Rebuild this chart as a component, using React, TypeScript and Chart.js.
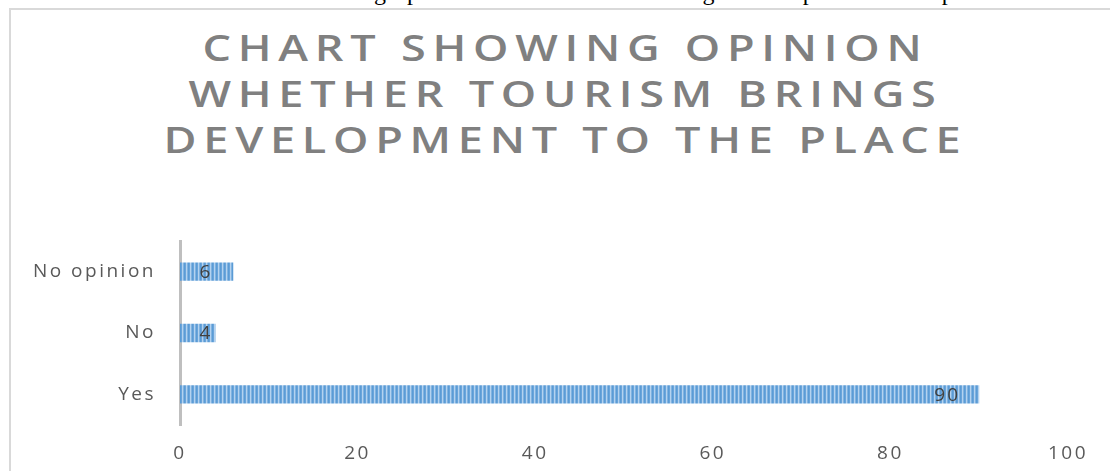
import React, { useEffect, useRef } from "react";
import { Chart, registerables } from "chart.js";

Chart.register(...registerables);

const captionText = "Chart No.2 Chartshowing opinion whether tourism brings development to the place";
const titleLines = ["CHART SHOWING OPINION", "WHETHER TOURISM BRINGS", "DEVELOPMENT TO THE PLACE"];
const categories = ["No opinion", "No", "Yes"];
const values = [6, 4, 90];
const xTicks = [0, 20, 40, 60, 80, 100];

const FONT = "'Open Sans', 'Noto Sans', sans-serif";

function makePattern(): CanvasPattern | string {
  const c = document.createElement("canvas");
  c.width = 4;
  c.height = 4;
  const g = c.getContext("2d");
  if (!g) return "#5b9bd5";
  const cols = ["#5b9bd5", "#6aa5db", "#b4d2ef", "#80b3e1"];
  cols.forEach((col, i) => {
    g.fillStyle = col;
    g.fillRect(i, 0, 1, 4);
  });
  return g.createPattern(c, "repeat") || "#5b9bd5";
}

const spacingPlugin = {
  id: "spacing",
  beforeDraw(chart: any) {
    (chart.ctx as any).letterSpacing = "2.5px";
  },
};

const labelPlugin = {
  id: "barLabels",
  afterDatasetsDraw(chart: any) {
    const ctx = chart.ctx;
    const meta = chart.getDatasetMeta(0);
    ctx.save();
    (ctx as any).letterSpacing = "2px";
    ctx.font = `19px ${FONT}`;
    ctx.fillStyle = "#404040";
    ctx.textAlign = "center";
    ctx.textBaseline = "middle";
    meta.data.forEach((bar: any, i: number) => {
      const start = bar.base;
      const end = bar.x;
      const cx = Math.max(end - 33, start + 25);
      ctx.fillText(String(values[i]), cx + 1, bar.y + 1);
    });
    ctx.restore();
  },
};

export default function App() {
  const ref = useRef<HTMLCanvasElement>(null);

  useEffect(() => {
    if (!ref.current) return;
    const chart = new Chart(ref.current, {
      type: "bar",
      data: {
        labels: categories,
        datasets: [
          {
            data: values,
            backgroundColor: makePattern() as any,
            borderWidth: 0,
            categoryPercentage: 1,
            barPercentage: 0.3,
          },
        ],
      },
      options: {
        indexAxis: "y",
        responsive: false,
        animation: false,
        layout: { padding: { top: 241, right: 42, left: 0, bottom: 0 } },
        plugins: {
          legend: { display: false },
          tooltip: { enabled: false },
          title: { display: false },
        },
        scales: {
          x: {
            min: 0,
            max: 100,
            afterBuildTicks: (s: any) => {
              s.ticks = xTicks.map((v) => ({ value: v }));
            },
            grid: { display: false, drawTicks: false },
            border: { display: false },
            ticks: {
              color: "#595959",
              font: { family: FONT, size: 19 },
              padding: 17,
              maxRotation: 0,
            },
            afterFit: (s: any) => {
              s.height = 46;
            },
          },
          y: {
            grid: { display: false, drawTicks: false },
            border: { display: true, color: "#bfbfbf", width: 3 },
            ticks: {
              color: "#595959",
              font: { family: FONT, size: 19 },
              padding: 24,
            },
            afterFit: (s: any) => {
              s.width = 180;
            },
          },
        },
      },
      plugins: [spacingPlugin, labelPlugin],
    });
    return () => chart.destroy();
  }, []);

  return (
    <div
      style={{
        position: "absolute",
        left: 0,
        top: 0,
        width: 1110,
        height: 471,
        overflow: "hidden",
        background: "#ffffff",
      }}
    >
      <div
        style={{
          position: "absolute",
          top: -20,
          left: 0,
          width: 1114,
          textAlign: "center",
          fontFamily: "'Liberation Serif', 'Times New Roman', serif",
          fontSize: 24,
          lineHeight: "24px",
          letterSpacing: "1px",
          color: "#000",
          whiteSpace: "nowrap",
        }}
      >
        {captionText}
      </div>
      <div
        style={{
          position: "absolute",
          left: 9,
          top: 8,
          width: 1200,
          height: 600,
          borderTop: "2px solid #d9d9d9",
          borderLeft: "2px solid #d9d9d9",
          boxSizing: "border-box",
        }}
      />
      <div
        style={{
          position: "absolute",
          top: 25,
          left: 0,
          width: 1131,
          textAlign: "center",
          fontFamily: FONT,
          fontWeight: 600,
          fontSize: 36,
          lineHeight: "46px",
          letterSpacing: "5.4px",
          color: "#808080",
          whiteSpace: "nowrap",
          transform: "scaleX(1.25)",
          transformOrigin: "565.5px 0",
        }}
      >
        {titleLines.map((l) => (
          <div key={l}>{l}</div>
        ))}
      </div>
      <canvas
        ref={ref}
        width={1110}
        height={471}
        style={{ position: "absolute", left: 0, top: 0 }}
      />
    </div>
  );
}
